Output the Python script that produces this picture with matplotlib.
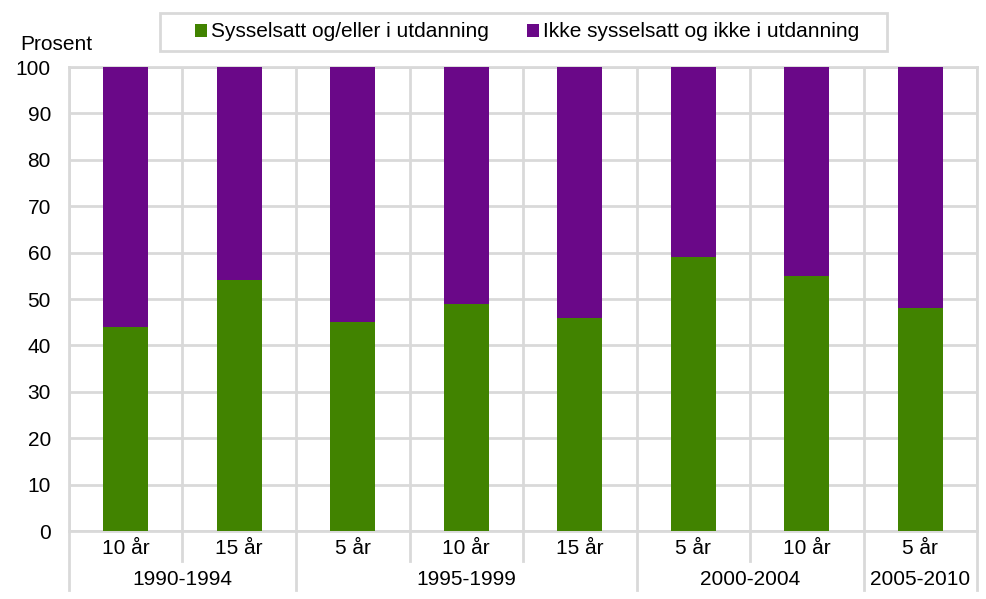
import matplotlib.pyplot as plt
import matplotlib.transforms as mtransforms
from matplotlib.patches import Rectangle
import numpy as np

plt.rcParams['font.family'] = ['Liberation Sans', 'DejaVu Sans']

years = ['10 år', '15 år', '5 år', '10 år', '15 år', '5 år', '10 år', '5 år']
periods = ['1990-1994', '1995-1999', '2000-2004', '2005-2010']
period_sizes = [2, 3, 2, 1]
employed = [44, 54, 45, 49, 46, 59, 55, 48]
not_employed = [100 - v for v in employed]

green = '#418300'
purple = '#6a0888'
grid_c = '#d9d9d9'
fs = 15

fig = plt.figure(figsize=(9.87, 5.99), dpi=100)
ax = fig.add_axes([0.0699, 0.1135, 0.92, 0.7746])

x = np.arange(len(years))
ax.bar(x, employed, width=0.4, color=green, label='Sysselsatt og/eller i utdanning', zorder=3)
ax.bar(x, not_employed, width=0.4, bottom=employed, color=purple,
       label='Ikke sysselsatt og ikke i utdanning', zorder=3)

ax.set_xlim(-0.5, len(years) - 0.5)
ax.set_ylim(0, 100)
ax.set_yticks(range(0, 101, 10))
ax.tick_params(axis='y', length=0, labelsize=fs, pad=13)
ax.set_xticks([])
ax.set_xticks(np.arange(-0.5, len(years)), minor=True)
ax.tick_params(axis='x', which='minor', length=0)
ax.grid(axis='y', color=grid_c, linewidth=2, zorder=0)
ax.grid(axis='x', which='minor', color=grid_c, linewidth=2, zorder=0)
for s in ax.spines.values():
    s.set_color(grid_c)
    s.set_linewidth(2)

fig.text(20 / 987, 1 - 45 / 599, 'Prosent', fontsize=fs, ha='left', va='center')

# multi-level category axis
trans = mtransforms.blended_transform_factory(ax.transData, ax.transAxes)
for i, lab in enumerate(years):
    ax.text(i, -0.037, lab, transform=trans, ha='center', va='center', fontsize=fs)
bounds = np.cumsum([0] + period_sizes) - 0.5
for b in bounds:
    ax.plot([b, b], [0, -0.127], transform=trans, color=grid_c, lw=2, clip_on=False)
for i in range(1, len(years)):
    if i - 0.5 not in bounds:
        ax.plot([i - 0.5, i - 0.5], [0, -0.065], transform=trans, color=grid_c, lw=2, clip_on=False)
for p, lo, hi in zip(periods, bounds[:-1], bounds[1:]):
    ax.text((lo + hi) / 2, -0.104, p, transform=trans, ha='center', va='center', fontsize=fs)

# legend with a wider frame drawn separately
fig.legend(loc='center', bbox_to_anchor=(0.534, 0.9466), ncol=2, fontsize=fs,
           frameon=False, handlelength=0.6, handleheight=0.6,
           handletextpad=0.2, columnspacing=1.8, borderpad=0.4)
fig.patches.append(Rectangle((160 / 987, 1 - 51 / 599), 727 / 987, 38 / 599,
                             transform=fig.transFigure, fill=False,
                             edgecolor=grid_c, linewidth=2))

fig.savefig('out.png', dpi=100)
